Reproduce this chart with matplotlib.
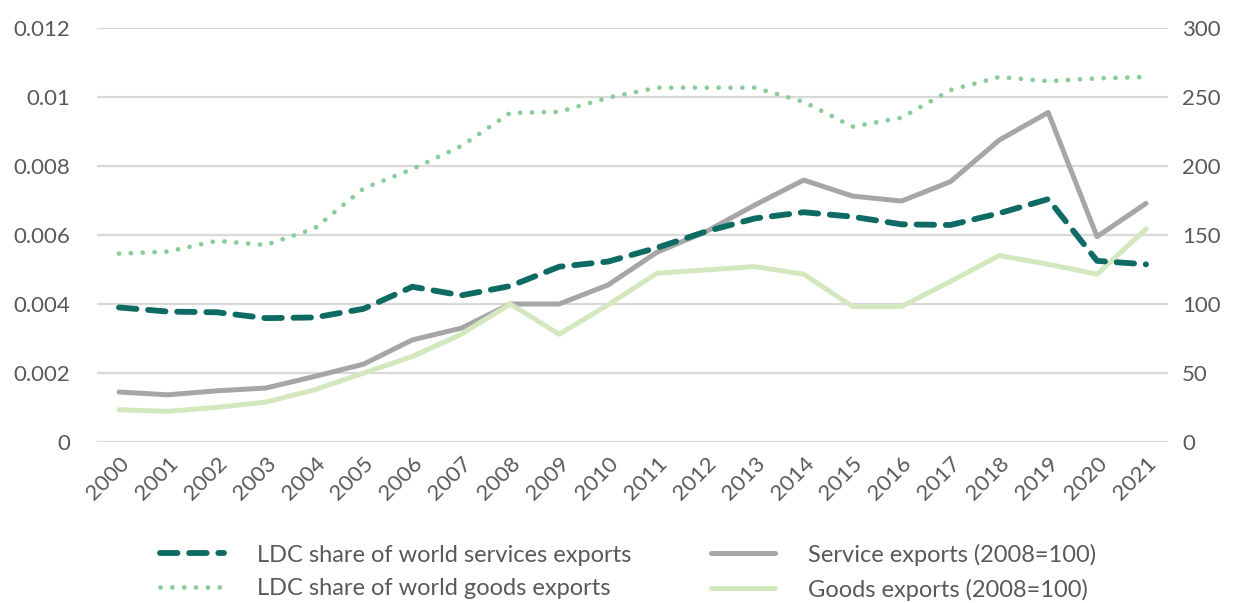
import matplotlib
matplotlib.use("Agg")
import matplotlib.pyplot as plt
from matplotlib.ticker import FixedLocator

plt.rcParams['font.family'] = ['Lato', 'DejaVu Sans']

# data
years = list(range(2000, 2022))
services_share = [0.00390, 0.00378, 0.00376, 0.00359, 0.00361, 0.00386, 0.00450, 0.00425,
                  0.00452, 0.00508, 0.00523, 0.00563, 0.00610, 0.00648, 0.00666, 0.00653,
                  0.00631, 0.00629, 0.00663, 0.00704, 0.00525, 0.00515]
goods_share = [0.00546, 0.00552, 0.00583, 0.00571, 0.00619, 0.00735, 0.00791, 0.00858,
               0.00954, 0.00957, 0.00998, 0.01027, 0.01027, 0.01027, 0.00986, 0.00914,
               0.00940, 0.01020, 0.01058, 0.01046, 0.01054, 0.01058]
service_index = [36.2, 34.2, 37.1, 39.1, 47.5, 56.4, 74.0, 82.5, 100.0, 100.0, 113.8, 137.5,
                 152.4, 171.7, 189.8, 178.2, 174.6, 188.6, 218.8, 238.8, 148.8, 172.9]
goods_index = [23.4, 22.2, 25.1, 28.9, 37.9, 49.9, 62.0, 78.1, 100.0, 78.1, 99.4, 122.3,
               124.7, 127.1, 121.6, 98.2, 98.2, 116.3, 135.1, 128.8, 121.6, 154.4]

left_ticks = [0, 0.002, 0.004, 0.006, 0.008, 0.010, 0.012]
left_labels = ["0", "0.002", "0.004", "0.006", "0.008", "0.01", "0.012"]
right_ticks = [0, 50, 100, 150, 200, 250, 300]

TEXT = "#595959"
GRID = "#d9d9d9"

fig = plt.figure(figsize=(12.33, 6.03), dpi=100)
ax2 = fig.add_axes([97 / 1233, 1 - 442 / 603, (1168 - 97) / 1233, (442 - 28) / 603])
ax = ax2.twinx()
# share lines on top, index lines below
ax.set_zorder(ax2.get_zorder() + 1)
ax.patch.set_visible(False)
# twinx puts ticks on the right for the new axes; swap sides
ax.yaxis.tick_left()
ax2.yaxis.tick_right()

l3, = ax2.plot(years, service_index, color="#a6a6a6", lw=3.6, solid_capstyle="round",
               label="Service exports (2008=100)")
l4, = ax2.plot(years, goods_index, color="#d3e8bf", lw=3.6, solid_capstyle="round",
               label="Goods exports (2008=100)")
l1, = ax.plot(years, services_share, color="#0e6b63", lw=4.2, linestyle=(0, (3.0, 2.0)),
              dash_capstyle="round", label="LDC share of world services exports")
l2, = ax.plot(years, goods_share, color="#88cc9a", lw=3.4, linestyle=(0, (0.01, 2.5)),
              dash_capstyle="round", label="LDC share of world goods exports")

ax.set_ylim(0, 0.012)
ax2.set_ylim(0, 300)
ax.set_xlim(1999.55, 2021.45)

ax.yaxis.set_major_locator(FixedLocator(left_ticks))
ax.set_yticklabels(left_labels)
ax2.yaxis.set_major_locator(FixedLocator(right_ticks))
ax2.set_xticks(years)
ax2.set_xticklabels([str(y) for y in years], rotation=45, ha="right",
                    rotation_mode="anchor")

ax2.grid(axis="y", color=GRID, lw=1.6)
ax2.set_axisbelow(True)

for a in (ax, ax2):
    for s in a.spines.values():
        s.set_visible(False)
    a.tick_params(length=0, colors=TEXT, labelsize=16)
ax.tick_params(axis="y", pad=19)
ax2.tick_params(axis="y", pad=10)
ax2.tick_params(axis="x", pad=8, labelsize=16)
ax.tick_params(axis="x", which="both", bottom=False, labelbottom=False)

fig.legend(handles=[l1, l2, l3, l4], ncol=2, loc="center",
           bbox_to_anchor=(628 / 1233, 1 - 572 / 603), frameon=False,
           fontsize=17, labelcolor=TEXT, handlelength=2.7, handletextpad=1.4,
           columnspacing=3.4, labelspacing=0.55)

fig.savefig("out.png", dpi=100)
